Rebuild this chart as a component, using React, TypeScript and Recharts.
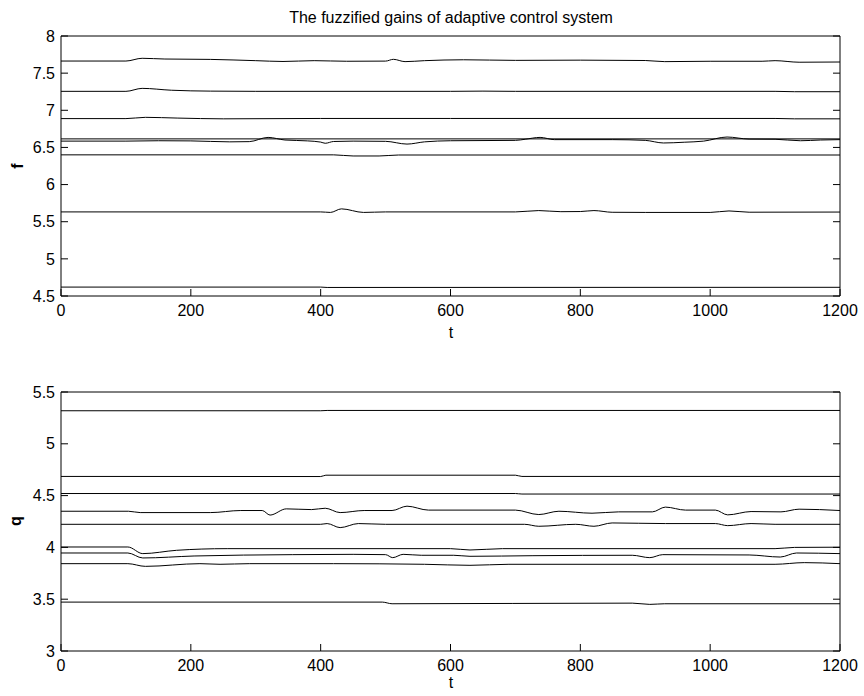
import React from 'react';
import { LineChart, Line, XAxis, YAxis } from 'recharts';

// time axis
const tTicks = [0, 200, 400, 600, 800, 1000, 1200];
const fTicks = [4.5, 5, 5.5, 6, 6.5, 7, 7.5, 8];
const qTicks = [3, 3.5, 4, 4.5, 5, 5.5];

// f gains, [t, value]
const f1 = [[0, 7.663], [100, 7.663], [125, 7.7], [160, 7.69], [230, 7.685], [300, 7.668], [342, 7.657], [390, 7.668], [440, 7.66], [500, 7.662], [512, 7.686], [530, 7.655], [560, 7.668], [620, 7.68], [700, 7.672], [800, 7.675], [900, 7.67], [930, 7.655], [1000, 7.66], [1080, 7.66], [1100, 7.668], [1137, 7.647], [1200, 7.65]];
const f2 = [[0, 7.255], [100, 7.255], [125, 7.295], [170, 7.27], [230, 7.258], [300, 7.255], [600, 7.255], [650, 7.258], [700, 7.255], [1100, 7.255], [1130, 7.25], [1200, 7.25]];
const f3 = [[0, 6.888], [100, 6.888], [130, 6.905], [180, 6.895], [250, 6.885], [400, 6.89], [600, 6.89], [1100, 6.89], [1130, 6.885], [1200, 6.885]];
const f4 = [[0, 6.615], [1200, 6.615]];
const f5 = [[0, 6.585], [100, 6.585], [150, 6.59], [200, 6.588], [260, 6.575], [290, 6.578], [319, 6.635], [345, 6.6], [380, 6.588], [400, 6.572], [407, 6.556], [420, 6.58], [450, 6.585], [500, 6.582], [533, 6.545], [560, 6.575], [600, 6.59], [700, 6.595], [715, 6.61], [738, 6.635], [760, 6.605], [850, 6.605], [900, 6.595], [928, 6.56], [960, 6.57], [990, 6.585], [1026, 6.64], [1060, 6.612], [1100, 6.61], [1139, 6.59], [1170, 6.6], [1200, 6.605]];
const f6 = [[0, 6.4], [420, 6.4], [450, 6.385], [490, 6.385], [520, 6.398], [1200, 6.398]];
const f7 = [[0, 5.632], [400, 5.632], [415, 5.625], [432, 5.673], [466, 5.625], [500, 5.632], [700, 5.632], [736, 5.65], [770, 5.635], [800, 5.637], [821, 5.65], [849, 5.627], [900, 5.625], [1000, 5.625], [1029, 5.645], [1060, 5.628], [1200, 5.63]];
const f8 = [[0, 4.62], [400, 4.62], [410, 4.615], [1200, 4.617]];

// q gains, [t, value]
const q1 = [[0, 5.319], [400, 5.319], [410, 5.322], [1200, 5.322]];
const q2 = [[0, 4.685], [400, 4.684], [408, 4.697], [700, 4.697], [710, 4.685], [1200, 4.685]];
const q3 = [[0, 4.52], [700, 4.52], [710, 4.515], [1200, 4.515]];
const q4 = [[0, 4.349], [104, 4.349], [122, 4.336], [230, 4.336], [277, 4.356], [310, 4.356], [322, 4.312], [347, 4.372], [386, 4.365], [407, 4.378], [430, 4.336], [467, 4.356], [510, 4.356], [533, 4.398], [566, 4.36], [700, 4.36], [736, 4.317], [767, 4.349], [818, 4.33], [859, 4.343], [911, 4.343], [931, 4.389], [962, 4.36], [1008, 4.36], [1027, 4.314], [1063, 4.346], [1109, 4.343], [1137, 4.369], [1200, 4.356]];
const q5 = [[0, 4.223], [400, 4.223], [410, 4.23], [430, 4.191], [458, 4.23], [500, 4.223], [714, 4.223], [736, 4.204], [793, 4.223], [821, 4.204], [849, 4.236], [931, 4.23], [1008, 4.23], [1027, 4.21], [1063, 4.23], [1100, 4.223], [1200, 4.223]];
const q6 = [[0, 4.004], [103, 4.004], [126, 3.94], [178, 3.972], [256, 3.988], [600, 3.988], [630, 3.975], [680, 3.988], [1100, 3.988], [1130, 4.0], [1200, 4.002]];
const q7 = [[0, 3.946], [103, 3.946], [126, 3.898], [205, 3.917], [357, 3.93], [450, 3.933], [500, 3.93], [511, 3.901], [527, 3.933], [555, 3.924], [605, 3.924], [630, 3.914], [727, 3.92], [880, 3.924], [907, 3.901], [927, 3.93], [1060, 3.927], [1108, 3.907], [1133, 3.946], [1200, 3.94]];
const q8 = [[0, 3.843], [103, 3.843], [130, 3.817], [214, 3.843], [245, 3.837], [290, 3.843], [420, 3.843], [560, 3.837], [630, 3.827], [690, 3.837], [1100, 3.837], [1145, 3.853], [1200, 3.843]];
const q9 = [[0, 3.472], [495, 3.472], [510, 3.456], [880, 3.462], [907, 3.45], [930, 3.456], [1200, 3.456]];

const fSeries = [f1, f2, f3, f4, f5, f6, f7, f8];
const qSeries = [q1, q2, q3, q4, q5, q6, q7, q8, q9];

const FONT = '"Liberation Sans", Arial, Helvetica, sans-serif';
const tickStyle = { fontSize: 16, fill: '#000', fontFamily: FONT };
const blank = () => '';

const toPoints = (s: number[][]) => s.map(([t, v]) => ({ t, v }));

interface PanelProps {
    series: number[][][];
    yTicks: number[];
    height: number;
    margin: { top: number; right: number; bottom: number; left: number };
}

// axes take 1px each, so margins are one less than the plot edge
const Panel: React.FC<PanelProps> = ({ series, yTicks, height, margin }) => {
    const yDomain = [yTicks[0], yTicks[yTicks.length - 1]];
    return (
        <LineChart width={864} height={height} margin={margin}>
            <XAxis
                type="number"
                dataKey="t"
                domain={[0, 1200]}
                ticks={tTicks}
                allowDataOverflow
                height={1}
                tickSize={-7}
                tickMargin={16}
                tick={tickStyle}
                axisLine={{ stroke: '#000' }}
                tickLine={{ stroke: '#000' }}
            />
            <XAxis
                xAxisId="top"
                orientation="top"
                type="number"
                domain={[0, 1200]}
                ticks={tTicks}
                allowDataOverflow
                height={1}
                tickSize={-7}
                tickFormatter={blank}
                axisLine={{ stroke: '#000' }}
                tickLine={{ stroke: '#000' }}
            />
            <YAxis
                type="number"
                domain={yDomain}
                ticks={yTicks}
                allowDataOverflow
                width={1}
                tickSize={-7}
                tickMargin={13}
                tick={tickStyle}
                axisLine={{ stroke: '#000' }}
                tickLine={{ stroke: '#000' }}
            />
            <YAxis
                yAxisId="right"
                orientation="right"
                type="number"
                domain={yDomain}
                ticks={yTicks}
                allowDataOverflow
                width={1}
                tickSize={-7}
                tickFormatter={blank}
                axisLine={{ stroke: '#000' }}
                tickLine={{ stroke: '#000' }}
            />
            {series.map((s, i) => (
                <Line
                    key={i}
                    data={toPoints(s)}
                    dataKey="v"
                    type="monotone"
                    stroke="#000"
                    strokeWidth={1}
                    dot={false}
                    activeDot={false}
                    isAnimationActive={false}
                />
            ))}
        </LineChart>
    );
};

export default function App() {
    return (
        <div style={{ position: 'absolute', left: 0, top: 0, width: 864, height: 696, background: '#fff', fontFamily: FONT }}>
            <div style={{ position: 'absolute', left: 0, top: 0 }}>
                <Panel series={fSeries} yTicks={fTicks} height={340} margin={{ top: 35, right: 23, bottom: 43, left: 60 }} />
            </div>
            <div style={{ position: 'absolute', left: 0, top: 340 }}>
                <Panel series={qSeries} yTicks={qTicks} height={356} margin={{ top: 51, right: 23, bottom: 44, left: 60 }} />
            </div>
            <svg width={864} height={696} style={{ position: 'absolute', left: 0, top: 0, pointerEvents: 'none' }}>
                <text x={451} y={23} textAnchor="middle" fontSize={16} fontFamily={FONT} fill="#000">
                    The fuzzified gains of adaptive control system
                </text>
                <text x={451} y={338} textAnchor="middle" fontSize={16} fontFamily={FONT} fill="#000">t</text>
                <text x={451} y={688} textAnchor="middle" fontSize={16} fontFamily={FONT} fill="#000">t</text>
                <text x={23} y={166} textAnchor="middle" fontSize={16} fontWeight="bold" fontFamily={FONT} fill="#000" transform="rotate(-90 23 166)">f</text>
                <text x={21} y={521} textAnchor="middle" fontSize={16} fontWeight="bold" fontFamily={FONT} fill="#000" transform="rotate(-90 21 521)">q</text>
            </svg>
        </div>
    );
}
